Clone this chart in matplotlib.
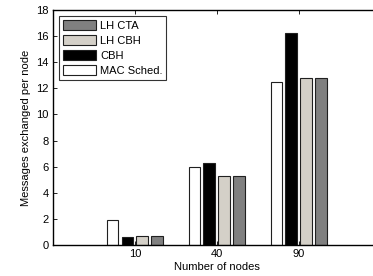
import matplotlib
matplotlib.use('Agg')
from matplotlib import pyplot as plt
import numpy as np

nodes = ['10', '40', '90']
series = ['MAC Sched.', 'CBH', 'LH CBH', 'LH CTA']
mac_sched = [1.9, 6.0, 12.5]
cbh = [0.6, 6.3, 16.2]
lh_cbh = [0.7, 5.3, 12.8]
lh_cta = [0.7, 5.3, 12.8]
colors = ['white', 'black', '#d4d0c8', '#808080']

plt.rcParams['font.family'] = ['Liberation Sans', 'DejaVu Sans']
fig = plt.figure(figsize=(3.73, 2.76), dpi=100)
ax = fig.add_axes([0.142, 0.112, 0.879, 0.852])

x = np.arange(1, len(nodes) + 1)
step = 0.182
width = 0.145
handles = []
for i, (name, vals) in enumerate(zip(series, [mac_sched, cbh, lh_cbh, lh_cta])):
    b = ax.bar(x + (i - 1.5) * step, vals, width, color=colors[i],
               edgecolor='#202020', linewidth=0.8, label=name)
    handles.append(b)

ax.set_xlim(0, 4)
ax.set_ylim(0, 18)
ax.set_yticks(range(0, 19, 2))
ax.set_xticks(x)
ax.set_xticklabels(nodes)
ax.tick_params(direction='in', length=3, width=0.6, labelsize=8,
               top=True, right=True, pad=3)
for s in ax.spines.values():
    s.set_linewidth(1.0)
ax.set_xlabel('Number of nodes', fontsize=8, labelpad=2)
ax.set_ylabel('Messages exchanged per node', fontsize=8, labelpad=4)

leg = ax.legend(handles[::-1], series[::-1], loc='upper left', fontsize=8,
                frameon=True, fancybox=False, edgecolor='black',
                handlelength=3.0, handleheight=1.1, borderpad=0.35,
                labelspacing=0.35, handletextpad=0.35, borderaxespad=0.0,
                bbox_to_anchor=(0.018, 0.975))
leg.get_frame().set_linewidth(0.8)

fig.savefig('out.png', dpi=100)
